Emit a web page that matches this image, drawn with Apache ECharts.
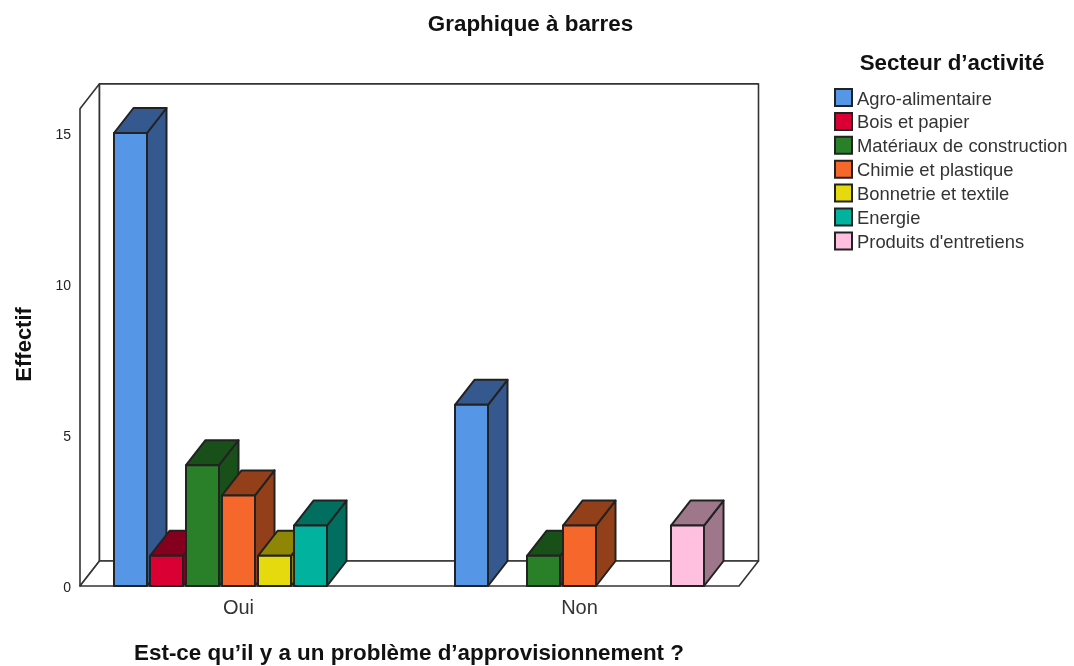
<!DOCTYPE html>
<html><head><meta charset="utf-8">
<style>html,body{margin:0;padding:0;background:#fff}#c{width:1074px;height:666px}</style>
<script src="https://cdn.jsdelivr.net/npm/echarts@6/dist/echarts.min.js"></script>
</head><body><div id="c"></div>
<script>
const categories = ['Oui', 'Non'];
const sectors = ['Agro-alimentaire','Bois et papier','Matériaux de construction','Chimie et plastique','Bonnetrie et textile','Energie',"Produits d'entretiens"];
const agro = [15, 6];
const bois = [1, null];
const materiaux = [4, 1];
const chimie = [3, 2];
const bonnetrie = [1, null];
const energie = [2, null];
const produits = [null, 2];
const seriesValues = [agro, bois, materiaux, chimie, bonnetrie, energie, produits];
const frontColors = ['#5596E6','#DA0033','#298029','#F5672A','#E4DA0E','#01B39E','#FFBFDF'];
const sideColors = ['#35598F','#85001F','#194F19','#93401A','#8F8606','#016E60','#9E778B'];
const yTicks = [0, 5, 10, 15];

const FONT = 'Liberation Sans';
const DX = 19.5, DY = -25, SLOT = 36, BAR = 33;
const LINE = '#333333';
const BAR_LINE = '#222222';
const WALL_TOP = 15.8;

function poly(points, fill, w, col) {
  return { type:'polygon', shape:{points}, style:{fill, stroke:col||LINE, lineWidth:w||1.6, lineJoin:'round'} };
}
function renderWalls(params, api) {
  const base = api.coord([0, 0]);
  const top = api.coord([0, WALL_TOP]);
  const y0 = base[1], y1 = top[1];
  const xL = 80, xR = 739;
  return { type:'group', silent:true, children:[
    poly([[xL,y0],[xL,y1],[xL+DX,y1+DY],[xL+DX,y0+DY]], '#fff'),
    poly([[xL+DX,y0+DY],[xL+DX,y1+DY],[xR+DX,y1+DY],[xR+DX,y0+DY]], '#fff'),
    poly([[xL,y0],[xL+DX,y0+DY],[xR+DX,y0+DY],[xR,y0]], '#fff')
  ]};
}
function renderBar(si) {
  return function (params, api) {
    const idx = api.value(0), v = api.value(1);
    if (v == null || isNaN(v)) return null;
    const c = api.coord([idx, v]), b = api.coord([idx, 0]);
    const cx = c[0] + (si - 3) * SLOT;
    const l = cx - BAR / 2, r = cx + BAR / 2, t = c[1], y0 = b[1];
    return { type:'group', children:[
      poly([[r,y0],[r,t],[r+DX,t+DY],[r+DX,y0+DY]], sideColors[si], 2, BAR_LINE),
      poly([[l,t],[l+DX,t+DY],[r+DX,t+DY],[r,t]], sideColors[si], 2, BAR_LINE),
      poly([[l,y0],[l,t],[r,t],[r,y0]], frontColors[si], 2, BAR_LINE)
    ]};
  };
}
const series = [{
  type:'custom', name:'__walls', silent:true, z:1,
  data:[[0,0]], renderItem:renderWalls, encode:{x:0,y:1}, tooltip:{show:false}
}];
sectors.forEach((name, si) => {
  series.push({
    type:'custom', name, z:2, clip:false,
    itemStyle:{color:frontColors[si]},
    data: categories.map((_, i) => [i, seriesValues[si][i]]),
    encode:{x:0,y:1}, renderItem:renderBar(si)
  });
});
const chart = echarts.init(document.getElementById('c'), null, {renderer:'canvas'});
chart.setOption({
  animation:false,
  backgroundColor:'#fff',
  textStyle:{fontFamily:FONT},
  title:[
    {text:'Graphique à barres', left:530.5, top:14, padding:0, textAlign:'center',
     textStyle:{fontFamily:FONT,fontSize:22.4,fontWeight:'bold',color:'#111'}},
    {text:'Secteur d’activité', left:952, top:53, padding:0, textAlign:'center',
     textStyle:{fontFamily:FONT,fontSize:22.3,fontWeight:'bold',color:'#111'}}
  ],
  legend:{
    orient:'vertical', left:834, top:88, itemWidth:17, itemHeight:17, itemGap:3.4, padding:0,
    icon:'rect', data:sectors,
    itemStyle:{borderColor:BAR_LINE, borderWidth:2},
    formatter:n => '{t|' + n + '}',
    textStyle:{fontFamily:FONT,fontSize:18.4,color:'#333',
      rich:{t:{fontFamily:FONT,fontSize:18.4,color:'#333',padding:[4,0,0,0]}}}
  },
  grid:{left:68, right:324, top:586-16*30.2, bottom:80, outerBoundsMode:'none'},
  xAxis:{
    type:'category', data:categories,
    name:'Est-ce qu’il y a un problème d’approvisionnement ?', nameLocation:'middle', nameGap:68,
    nameTextStyle:{fontFamily:FONT,fontSize:22.4,fontWeight:'bold',color:'#111',verticalAlign:'middle'},
    axisLine:{show:false}, axisTick:{show:false}, splitLine:{show:false},
    axisLabel:{fontFamily:FONT,fontSize:20,color:'#333',margin:12}
  },
  yAxis:{
    type:'value', min:0, max:16, interval:5,
    name:'Effectif', nameLocation:'middle', nameGap:43, nameRotate:90,
    nameTextStyle:{fontFamily:FONT,fontSize:22,fontWeight:'bold',color:'#111',verticalAlign:'middle'},
    axisLine:{show:false}, axisTick:{show:false}, splitLine:{show:false},
    axisLabel:{fontFamily:FONT,fontSize:14,color:'#222',margin:-3,showMaxLabel:false,
      verticalAlign:'middle',verticalAlignMinLabel:'middle',
      rich:{t:{fontFamily:FONT,fontSize:14,color:'#222',padding:[4,0,0,0]}},
      formatter:v => yTicks.includes(v) ? '{t|' + v + '}' : ''}
  },
  series
});
</script></body></html>
